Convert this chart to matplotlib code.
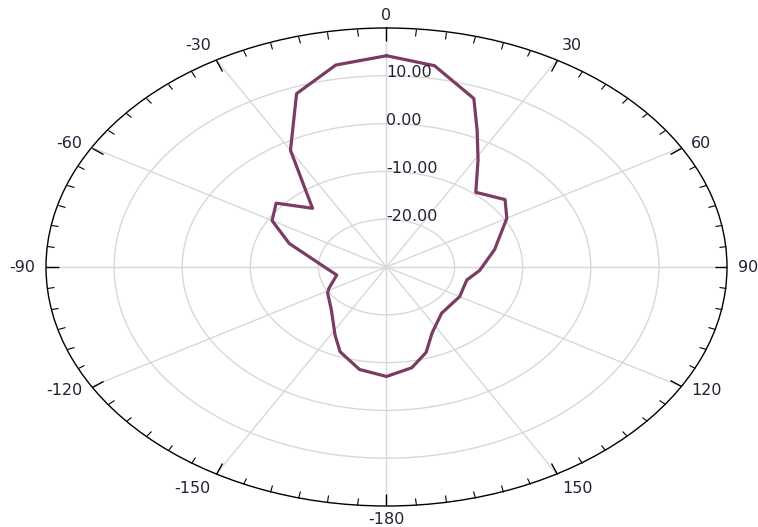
import numpy as np
import matplotlib
matplotlib.use('Agg')
import matplotlib.pyplot as plt

#Data section ------------------------------
# pattern angle (deg, clockwise from top) and gain (dB)
angle_deg = [0, 9.5, 20, 25, 31, 40, 51, 60, 77, 93, 103, 120, 140, 154, 162, 170,
             180, 190.5, 201, 208, 222, 238, 242.5, 257, 270, 289, 300, 309.5, 318.5,
             330, 340, 350]
gain_db = [14.2, 12.7, 7.5, 1.5, -3.9, -9.6, -7.6, -9.6, -13.7, -16.3, -17.9, -17.6,
           -17.4, -14.7, -11.2, -8.6, -7.1, -8.2, -11.0, -13.9, -17.9, -19.8, -20.5,
           -22.5, -20.9, -14.9, -10.6, -9.0, -13.6, -1.8, 8.6, 12.9]

theta_ticks = [0, 30, 60, 90, 120, 150, 180, 210, 240, 270, 300, 330]
theta_labels = ['0', '30', '60', '90', '120', '150', '-180', '-150', '-120', '-90', '-60', '-30']
r_ticks = [-20, -10, 0, 10]
r_labels = ['-20.00', '-10.00', '0.00', '10.00']
r_min, r_max = -30, 20

#Plot section ---------------------------------------------
fig = plt.figure(figsize=(7.58, 5.27), dpi=100)
ax = fig.add_axes([46/758, 21/527, 681/758, 478/527], projection='polar')
ax.set_aspect('auto')

ax.set_theta_zero_location('N')
ax.set_theta_direction(-1)
ax.set_ylim(r_min, r_max)

th = np.deg2rad(angle_deg + [angle_deg[0]])
rr = gain_db + [gain_db[0]]
ax.plot(th, rr, '-', color='#7b3c63', linewidth=2.3, zorder=5)

# spokes + ticks on the outer ring
ax.set_thetagrids(theta_ticks, [''] * len(theta_ticks))
ax.set_xticks(np.deg2rad(np.arange(0, 360, 5)), minor=True)
ax.tick_params(axis='x', which='both', top=True, bottom=False, direction='in', color='k')
ax.tick_params(axis='x', which='major', length=9, width=1)
ax.tick_params(axis='x', which='minor', length=5, width=0.8)

# angle labels just outside the ring
for t, lab in zip(theta_ticks, theta_labels):
    s, c = np.sin(np.deg2rad(t)), np.cos(np.deg2rad(t))
    ha = 'center' if abs(s) < 0.1 else ('left' if s > 0 else 'right')
    if abs(c) > 0.8:
        va = 'bottom' if c > 0 else 'top'
    else:
        va = 'center'
    rl = 21.6
    if t == 0:
        rl = 21.0
    if t == 180:
        rl = 21.2
    ax.text(np.deg2rad(t), rl, lab, ha=ha, va=va, fontsize=11.5, color='#222233', clip_on=False)

ax.set_rgrids(r_ticks)
ax.set_yticklabels([])
ax.tick_params(axis='y', length=0)
for r, lab in zip(r_ticks, r_labels):
    ax.text(0, r + 0.6, lab, ha='left', va='center', fontsize=11.5, color='#222233', zorder=6)

ax.grid(True, which='major', color='#d8d8d8', linewidth=1)
ax.spines['polar'].set_color('k')
ax.spines['polar'].set_linewidth(1)

plt.savefig('out.png', dpi=100)
